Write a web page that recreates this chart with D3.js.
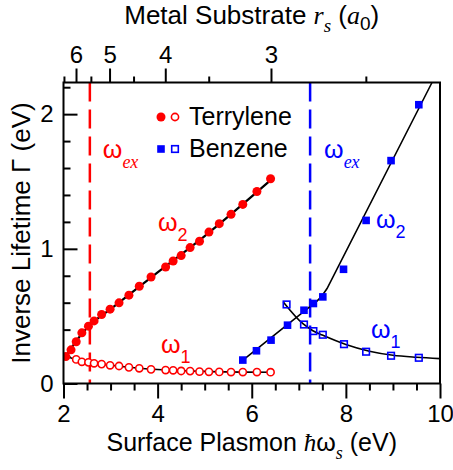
<!DOCTYPE html>
<html lang="en"><head><meta charset="utf-8">
<title>Inverse lifetime vs surface plasmon</title>
<script src="https://cdn.jsdelivr.net/npm/d3@7"></script>
<style>
  body { margin: 0; background: #fff; }
  text { font-family: "Liberation Sans", Arial, sans-serif; }
  .it { font-family: "Liberation Serif", "Times New Roman", serif; font-style: italic; }
</style>
</head>
<body>
<script>
// --- data ---
var terryW = [2.05, 2.16, 2.27, 2.39, 2.53, 2.65, 2.81, 2.99, 3.18, 3.39, 3.61, 3.86, 4.17, 4.33, 4.50, 4.69, 4.89, 5.09, 5.31, 5.56, 5.81, 6.11, 6.40];
var terryG2 = [0.20, 0.25, 0.31, 0.376, 0.426, 0.465, 0.512, 0.552, 0.599, 0.656, 0.722, 0.791, 0.865, 0.91, 0.95, 1.009, 1.056, 1.124, 1.187, 1.256, 1.33, 1.426, 1.52];
var terryW1 = [2.27, 2.39, 2.53, 2.65, 2.81, 2.99, 3.18, 3.39, 3.61, 3.86, 4.17, 4.33, 4.50, 4.69, 4.89, 5.09, 5.31, 5.56, 5.81, 6.11, 6.40];
var terryG1 = [0.179, 0.161, 0.157, 0.150, 0.144, 0.135, 0.130, 0.120, 0.113, 0.105, 0.100, 0.098, 0.093, 0.092, 0.088, 0.087, 0.086, 0.085, 0.085, 0.085, 0.084];

var benzW2 = [5.81, 6.10, 6.41, 6.76, 7.11, 7.31, 7.51, 7.95, 8.43, 8.96, 9.55];
var benzG2 = [0.174, 0.243, 0.322, 0.433, 0.544, 0.594, 0.643, 0.848, 1.211, 1.655, 2.07];
var benzW1 = [6.74, 7.11, 7.31, 7.51, 7.96, 8.43, 8.96, 9.55];
var benzG1 = [0.587, 0.438, 0.389, 0.362, 0.292, 0.236, 0.206, 0.191];

// fitted curves (black lines)
var fitTerry2 = [[2.05, 0.20], [2.3, 0.33], [2.55, 0.43], [3.0, 0.553], [4.0, 0.825], [5.0, 1.095], [6.45, 1.525]];
var fitTerry1 = [[2.05, 0.20], [2.3, 0.175], [2.6, 0.155], [3.0, 0.135], [3.5, 0.117], [4.0, 0.104], [5.0, 0.09], [6.45, 0.083]];
var fitBenz2 = [[5.78, 0.165], [7.25, 0.575], [7.38, 0.61], [7.48, 0.645], [7.6, 0.705], [9.83, 2.235]];
var fitBenz1 = [[6.67, 0.606], [7.1, 0.44], [7.3, 0.392], [7.5, 0.36], [8.0, 0.29], [8.5, 0.24], [9.0, 0.21], [9.5, 0.195], [10.0, 0.185]];

var wexTerry = 2.56;
var wexBenz = 7.24;

var xMajor = [2, 4, 6, 8, 10];
var xMinor = [2.5, 3, 3.5, 4.5, 5, 5.5, 6.5, 7, 7.5, 8.5, 9, 9.5];
var yMajor = [0, 1, 2];
var yMinor = [0.2, 0.4, 0.6, 0.8, 1.2, 1.4, 1.6, 1.8, 2.2];
var rsMajor = [6, 5, 4, 3];
var rsMinor = [6.5, 5.5, 4.5, 3.5, 2.5];

var red = "#ff0000", blue = "#0000ff";

var width = 453, height = 470;
var pLeft = 63.5, pRight = 440, pTop = 82.5, pBottom = 383.5;

var svg = d3.select("body").append("svg")
    .attr("width", width).attr("height", height);

var x = d3.scaleLinear().domain([2, 10]).range([pLeft, pRight]);
var y = d3.scaleLinear().domain([0, 2.235]).range([pBottom, pTop]);
// surface plasmon energy ~ 33.3 * rs^-1.5 eV
function rsOf(w) { return Math.pow(33.3 / w, 2 / 3); }
var xr = d3.scalePow().exponent(-1.5).domain([rsOf(2), rsOf(10)]).range([pLeft, pRight]);

svg.append("clipPath").attr("id", "plot").append("rect")
    .attr("x", pLeft).attr("y", pTop).attr("width", pRight - pLeft).attr("height", pBottom - pTop);

// axes
function styleAxis(g) {
  g.select(".domain").remove();
  g.selectAll("line").attr("stroke", "#000").attr("stroke-width", 2);
  g.selectAll("text").attr("font-size", 24).attr("fill", "#000")
    .attr("font-family", "Liberation Sans, Arial, sans-serif");
}

svg.append("g").attr("transform", "translate(0," + pBottom + ")")
  .call(d3.axisBottom(x).tickValues(xMajor).tickSize(15).tickPadding(6).tickFormat(d3.format("d")))
  .call(styleAxis);
svg.append("g").attr("transform", "translate(0," + pBottom + ")")
  .call(d3.axisBottom(x).tickValues(xMinor).tickSize(7).tickFormat(""))
  .call(styleAxis);

svg.append("g").attr("transform", "translate(" + pLeft + ",0)")
  .call(d3.axisLeft(y).tickValues(yMajor).tickSize(-14).tickPadding(10).tickFormat(d3.format("d")))
  .call(styleAxis);
svg.append("g").attr("transform", "translate(" + pLeft + ",0)")
  .call(d3.axisLeft(y).tickValues(yMinor).tickSize(-7).tickFormat(""))
  .call(styleAxis);

svg.append("g").attr("transform", "translate(0," + pTop + ")")
  .call(d3.axisTop(xr).tickValues(rsMajor).tickSize(14).tickPadding(6).tickFormat(d3.format("d")))
  .call(styleAxis);
svg.append("g").attr("transform", "translate(0," + pTop + ")")
  .call(d3.axisTop(xr).tickValues(rsMinor).tickSize(6).tickFormat(""))
  .call(styleAxis);

// dashed excitation lines
[[wexTerry, red], [wexBenz, blue]].forEach(function(d) {
  svg.append("line")
    .attr("x1", x(d[0])).attr("x2", x(d[0]))
    .attr("y1", pTop).attr("y2", pBottom)
    .attr("stroke", d[1]).attr("stroke-width", 2.5)
    .attr("stroke-dasharray", "19,8");
});

// fit lines
var smooth = d3.line().x(function(d) { return x(d[0]); }).y(function(d) { return y(d[1]); })
    .curve(d3.curveMonotoneX);
var straight = d3.line().x(function(d) { return x(d[0]); }).y(function(d) { return y(d[1]); });
var plot = svg.append("g").attr("clip-path", "url(#plot)");
[[fitTerry2, 2.2, smooth], [fitTerry1, 1.6, smooth], [fitBenz2, 1.6, straight], [fitBenz1, 1.6, smooth]].forEach(function(f) {
  plot.append("path").datum(f[0])
    .attr("d", f[2]).attr("fill", "none")
    .attr("stroke", "#000").attr("stroke-width", f[1]);
});

// markers
function zip(a, b) { return a.map(function(v, i) { return [v, b[i]]; }); }

plot.selectAll(".t1").data(zip(terryW1, terryG1)).enter().append("circle")
  .attr("cx", function(d) { return x(d[0]); }).attr("cy", function(d) { return y(d[1]); })
  .attr("r", 3.6).attr("fill", "#fff").attr("stroke", red).attr("stroke-width", 1.6);

plot.selectAll(".t2").data(zip(terryW, terryG2)).enter().append("circle")
  .attr("cx", function(d) { return x(d[0]); }).attr("cy", function(d) { return y(d[1]); })
  .attr("r", 4.5).attr("fill", red);

plot.selectAll(".b2").data(zip(benzW2, benzG2)).enter().append("rect")
  .attr("x", function(d) { return x(d[0]) - 3.8; }).attr("y", function(d) { return y(d[1]) - 3.8; })
  .attr("width", 7.6).attr("height", 7.6).attr("fill", blue);

plot.selectAll(".b1").data(zip(benzW1, benzG1)).enter().append("rect")
  .attr("x", function(d) { return x(d[0]) - 3.3; }).attr("y", function(d) { return y(d[1]) - 3.3; })
  .attr("width", 6.6).attr("height", 6.6).attr("fill", "none")
  .attr("stroke", blue).attr("stroke-width", 1.6);

// frame
svg.append("rect").attr("x", pLeft).attr("y", pTop)
  .attr("width", pRight - pLeft).attr("height", pBottom - pTop)
  .attr("fill", "none").attr("stroke", "#000").attr("stroke-width", 2);

// legend
svg.append("circle").attr("cx", 161).attr("cy", 117).attr("r", 4.5).attr("fill", red);
svg.append("circle").attr("cx", 175).attr("cy", 117).attr("r", 3.6)
  .attr("fill", "#fff").attr("stroke", red).attr("stroke-width", 1.6);
svg.append("text").attr("x", 189).attr("y", 125).attr("font-size", 25).text("Terrylene");
svg.append("rect").attr("x", 157.2).attr("y", 145.2).attr("width", 7.6).attr("height", 7.6).attr("fill", blue);
svg.append("rect").attr("x", 171.7).attr("y", 145.7).attr("width", 6.6).attr("height", 6.6)
  .attr("fill", "none").attr("stroke", blue).attr("stroke-width", 1.6);
svg.append("text").attr("x", 189).attr("y", 157).attr("font-size", 25).text("Benzene");

// curve labels
function omega(px, py, sub, color, italicSub) {
  var t = svg.append("text").attr("x", px).attr("y", py).attr("fill", color).attr("font-size", 25);
  t.append("tspan").text("ω");
  t.append("tspan").attr("class", italicSub ? "it" : null)
    .attr("font-size", 18).attr("dy", 10).text(sub);
}
omega(x(wexTerry) + 13, 158, "ex", red, true);
omega(x(wexBenz) + 14, 158, "ex", blue, true);
omega(158, 231, "2", red, false);
omega(161, 353, "1", red, false);
omega(376, 228, "2", blue, false);
omega(371, 338, "1", blue, false);

// axis titles
var bt = svg.append("text").attr("x", (pLeft + pRight) / 2).attr("y", 451)
  .attr("text-anchor", "middle").attr("font-size", 25);
bt.append("tspan").text("Surface Plasmon ");
bt.append("tspan").attr("class", "it").text("ħ");
bt.append("tspan").text("ω");
bt.append("tspan").attr("class", "it").attr("font-size", 18).attr("dy", 8).text("s");
bt.append("tspan").attr("dy", -8).text(" (eV)");

var tt = svg.append("text").attr("x", (pLeft + pRight) / 2).attr("y", 24)
  .attr("text-anchor", "middle").attr("font-size", 26);
tt.append("tspan").text("Metal Substrate ");
tt.append("tspan").attr("class", "it").text("r");
tt.append("tspan").attr("class", "it").attr("font-size", 19).attr("dy", 8).text("s");
tt.append("tspan").attr("dy", -8).text(" (");
tt.append("tspan").attr("class", "it").text("a");
tt.append("tspan").attr("font-size", 19).attr("dy", 6).text("0");
tt.append("tspan").attr("dy", -6).text(")");

svg.append("text")
  .attr("transform", "translate(30," + ((pTop + pBottom) / 2) + ") rotate(-90)")
  .attr("text-anchor", "middle").attr("font-size", 26)
  .text("Inverse Lifetime Γ (eV)");
</script>
</body></html>
